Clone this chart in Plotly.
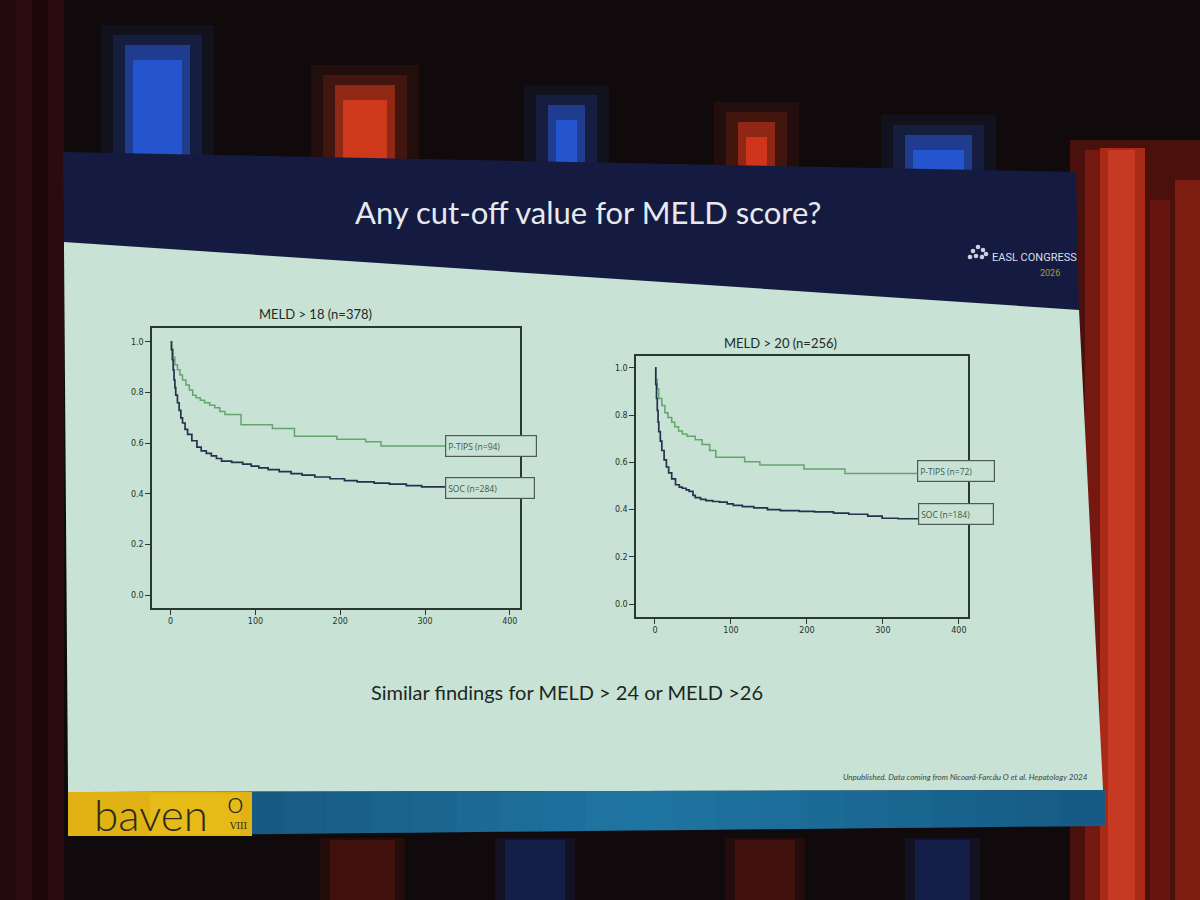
import plotly.graph_objects as go

# ---------------- data ----------------
x_ticks = [0, 100, 200, 300, 400]
y_ticks = [0.0, 0.2, 0.4, 0.6, 0.8, 1.0]
y_tick_labels = ["0.0", "0.2", "0.4", "0.6", "0.8", "1.0"]

panel_titles = ["MELD > 18 (n=378)", "MELD > 20 (n=256)"]

# MELD > 18
t_ptips18 = [0, 1, 3, 5, 8, 11, 14, 18, 22, 26, 30, 35, 40, 46, 52, 58, 64, 83, 120, 146, 196, 230, 248, 330]
s_ptips18 = [1.0, 0.97, 0.94, 0.91, 0.89, 0.87, 0.85, 0.83, 0.81, 0.79, 0.78, 0.77, 0.76, 0.75, 0.74,
             0.725, 0.714, 0.673, 0.658, 0.628, 0.616, 0.606, 0.589, 0.589]
t_soc18 = [0, 1, 2, 3, 4, 5, 6, 8, 10, 12, 14, 17, 20, 25, 31, 36, 42, 48, 54, 60, 72, 85, 95, 104,
           115, 128, 142, 155, 170, 188, 205, 220, 240, 258, 278, 296, 323]
s_soc18 = [1.0, 0.97, 0.93, 0.89, 0.85, 0.82, 0.79, 0.76, 0.73, 0.70, 0.68, 0.655, 0.635, 0.61, 0.585,
           0.57, 0.56, 0.55, 0.54, 0.53, 0.525, 0.518, 0.51, 0.503, 0.496, 0.488, 0.48, 0.474, 0.467,
           0.46, 0.453, 0.448, 0.443, 0.439, 0.433, 0.428, 0.425]

# MELD > 20
t_ptips20 = [0, 1, 3, 5, 9, 13, 17, 22, 26, 31, 36, 42, 53, 62, 72, 80, 118, 138, 196, 250, 350]
s_ptips20 = [1.0, 0.95, 0.91, 0.87, 0.84, 0.81, 0.79, 0.77, 0.75, 0.733, 0.72, 0.71, 0.695, 0.675,
             0.65, 0.621, 0.602, 0.588, 0.572, 0.553, 0.553]
t_soc20 = [0, 1, 2, 3, 4, 5, 7, 9, 12, 15, 18, 22, 27, 32, 36, 41, 45, 50, 53, 60, 67, 76, 85, 95,
           103, 115, 130, 148, 165, 190, 210, 235, 255, 280, 299, 320, 355]
s_soc20 = [1.0, 0.93, 0.87, 0.82, 0.77, 0.73, 0.69, 0.65, 0.61, 0.58, 0.555, 0.53, 0.505, 0.495, 0.49,
           0.483, 0.477, 0.46, 0.45, 0.443, 0.438, 0.434, 0.431, 0.424, 0.418, 0.412, 0.407, 0.4,
           0.395, 0.392, 0.39, 0.385, 0.38, 0.372, 0.363, 0.361, 0.36]

group_labels18 = ["P-TIPS (n=94)", "SOC (n=284)"]
group_labels20 = ["P-TIPS (n=72)", "SOC (n=184)"]

slide_title = "Any cut-off value for MELD score?"
slide_note = "Similar findings for MELD > 24 or MELD >26"
footnote = "Unpublished. Data coming from Nicoară-Farcău O et al. Hepatology 2024"

# ---------------- styling helpers ----------------
W, H = 1200, 900
def px(x): return x / W
def py(y): return 1 - y / H
def path(pts):
    return "M " + " L ".join(f"{px(a):.4f},{py(b):.4f}" for a, b in pts) + " Z"
def mix(c1, c2, f):
    a = [int(c1[i:i + 2], 16) for i in (1, 3, 5)]
    b = [int(c2[i:i + 2], 16) for i in (1, 3, 5)]
    return "#" + "".join(f"{round(a[k] + (b[k] - a[k]) * f):02x}" for k in range(3))

GREEN = "#64a56d"
NAVY = "#27314d"
AX = "#2a3832"
BODY = "#c8e2d5"

fig = go.Figure()

fig.add_trace(go.Scatter(x=t_ptips18, y=s_ptips18, mode="lines", line=dict(color=GREEN, width=1.5, shape="hv"),
                         xaxis="x", yaxis="y", showlegend=False, hoverinfo="skip"))
fig.add_trace(go.Scatter(x=t_soc18, y=s_soc18, mode="lines", line=dict(color=NAVY, width=1.7, shape="hv"),
                         xaxis="x", yaxis="y", showlegend=False, hoverinfo="skip"))
fig.add_trace(go.Scatter(x=t_ptips20, y=s_ptips20, mode="lines", line=dict(color=GREEN, width=1.5, shape="hv"),
                         xaxis="x2", yaxis="y2", showlegend=False, hoverinfo="skip"))
fig.add_trace(go.Scatter(x=t_soc20, y=s_soc20, mode="lines", line=dict(color=NAVY, width=1.7, shape="hv"),
                         xaxis="x2", yaxis="y2", showlegend=False, hoverinfo="skip"))

axis_common = dict(showgrid=False, zeroline=False, showline=True, mirror=True, linecolor=AX, linewidth=1.5,
                   ticks="outside", ticklen=5, tickcolor=AX, tickwidth=1.2,
                   tickfont=dict(family="DejaVu Sans", size=8, color="#24322b"))

fig.update_layout(
    width=W, height=H,
    margin=dict(l=0, r=0, t=0, b=0),
    paper_bgcolor="#110a0c",
    plot_bgcolor="rgba(0,0,0,0)",
    xaxis=dict(domain=[px(152), px(520)], range=[-22, 412], anchor="y",
               tickvals=x_ticks, **axis_common),
    yaxis=dict(domain=[py(608), py(328)], range=[-0.05, 1.055], anchor="x",
               tickvals=y_ticks, ticktext=y_tick_labels, **axis_common),
    xaxis2=dict(domain=[px(636), px(968)], range=[-25, 412], anchor="y2",
                tickvals=x_ticks, **axis_common),
    yaxis2=dict(domain=[py(617), py(356)], range=[-0.055, 1.05], anchor="x2",
                tickvals=y_ticks, ticktext=y_tick_labels, **axis_common),
)

shapes = []
def rect(x0, x1, y0, y1, color, opacity=1.0):
    shapes.append(dict(type="rect", xref="paper", yref="paper", x0=px(x0), x1=px(x1), y0=py(y1), y1=py(y0),
                       fillcolor=color, opacity=opacity, line_width=0, layer="below"))

# ---- background: curtains and stage lights ----
for i, c in enumerate(["#22090c", "#2c0c10", "#1e080a", "#2a0b0e"]):
    rect(i * 16, i * 16 + 16, 0, 900, c)
rect(1070, 1200, 140, 900, "#4a100c")
rect(1085, 1100, 150, 900, "#7a1a12", 0.9)
rect(1100, 1145, 148, 900, "#b52e1a", 0.9)
rect(1108, 1135, 150, 900, "#d8442a", 0.6)
rect(1150, 1170, 200, 900, "#6a150f", 0.9)
rect(1175, 1200, 180, 900, "#8a2014", 0.8)

lights = [  # (x0, x1, y0, y1, color)
    (125, 190, 35, 160, "#2a62f0"),
    (335, 395, 75, 180, "#f0401e"),
    (548, 585, 95, 196, "#2a62f0"),
    (738, 775, 112, 212, "#ef3e1e"),
    (905, 972, 125, 226, "#2a62f0"),
]
for x0, x1, y0, y1, c in lights:
    rect(x0 - 24, x1 + 24, y0 - 10, y1, c, 0.08)
    rect(x0 - 12, x1 + 12, y0, y1, c, 0.16)
    rect(x0, x1, y0 + 10, y1, c, 0.45)
    rect(x0 + 8, x1 - 8, y0 + 25, y1, c, 0.65)
for x0, x1, c in [(330, 395, "#7a1a12"), (505, 565, "#1a3690"), (735, 795, "#7a1a12"), (915, 970, "#1a3690")]:
    rect(x0 - 10, x1 + 10, 838, 900, c, 0.18)
    rect(x0, x1, 840, 900, c, 0.35)

# ---- slide ----
shapes.append(dict(type="path", xref="paper", yref="paper", layer="below", line_width=0,
                   fillcolor="#151b40", path=path([(63, 152), (1076, 172), (1079, 312), (64, 242)])))
shapes.append(dict(type="path", xref="paper", yref="paper", layer="below", line_width=0,
                   fillcolor=BODY, path=path([(64, 242), (1079, 310), (1103, 790), (68, 792)])))
n_seg = 24
xl, xr = 68.0, 1104.0
for k in range(n_seg):
    f0, f1 = k / n_seg, (k + 1) / n_seg
    a0, a1 = xl + (xr - xl) * f0, xl + (xr - xl) * f1 + 1
    t0, t1 = 792 - 2 * f0, 792 - 2 * f1
    b0, b1 = 836 - 10 * f0, 836 - 10 * f1
    fm = (f0 + f1) / 2
    c = mix("#144a72", "#1f76a2", fm / 0.55) if fm < 0.55 else mix("#1f76a2", "#155a84", (fm - 0.55) / 0.45)
    shapes.append(dict(type="path", xref="paper", yref="paper", layer="below", line_width=0,
                       fillcolor=c, path=path([(a0, t0), (a1, t1), (a1, b1), (a0, b0)])))
rect(68, 252, 792, 836, "#e0b214")
rect(150, 240, 794, 834, "#ecc21a", 0.5)
for cx, cy in [(973, 251), (978, 247), (983, 250), (976, 256), (982, 257), (970, 257), (986, 254)]:
    shapes.append(dict(type="circle", xref="paper", yref="paper", line_width=0, fillcolor="#c9d2de",
                       x0=px(cx - 2.3), x1=px(cx + 2.3), y0=py(cy + 2.3), y1=py(cy - 2.3)))
fig.update_layout(shapes=shapes)

ann = []
def text(x, y, s, size, color, family="Lato", xanchor="center", italic=False, weight=None):
    f = dict(family=family, size=size, color=color)
    if italic:
        f["style"] = "italic"
    if weight:
        f["weight"] = weight
    ann.append(dict(xref="paper", yref="paper", x=px(x), y=py(y), text=s, showarrow=False,
                    xanchor=xanchor, yanchor="middle", font=f))

text(588, 212, slide_title, 31, "#e6eaef")
text(315, 314, panel_titles[0], 13, "#1e2a24")
text(780, 343, panel_titles[1], 13, "#1e2a24")
text(567, 692, slide_note, 20, "#1c2722")
text(1090, 777, footnote, 8, "#3a4842", italic=True, xanchor="right")
text(990, 258, "EASL CONGRESS", 11, "#d8dee8", family="Roboto", xanchor="left")
text(1062, 273, "2026", 9, "#a99b3e", family="Roboto", xanchor="right")
text(92, 814, "baven", 44, "#2c2b20", xanchor="left", weight=300)
text(235, 801, "o", 30, "#2c2b20", weight=300)
text(238, 826, "VIII", 9, "#2c2b20", family="DejaVu Serif")

def box(xref, yref, x, y, s, w):
    ann.append(dict(xref=xref, yref=yref, x=x, y=y, text=s, showarrow=False, xanchor="left",
                    yanchor="middle", width=w, height=16, align="left", bgcolor=BODY,
                    bordercolor="#4d5b53", borderwidth=1.2, borderpad=2,
                    font=dict(family="Open Sans", size=8.5, color="#3e5a48")))

box("x", "y", 323, s_ptips18[-1], group_labels18[0], 86)
box("x", "y", 323, s_soc18[-1], group_labels18[1], 84)
box("x2", "y2", 345, s_ptips20[-1] + 0.01, group_labels20[0], 72)
box("x2", "y2", 346, s_soc20[-1] + 0.02, group_labels20[1], 70)

fig.update_layout(annotations=ann)
fig.write_html("out.html", config={"displayModeBar": False},
               post_script="document.body.style.margin='0';")
